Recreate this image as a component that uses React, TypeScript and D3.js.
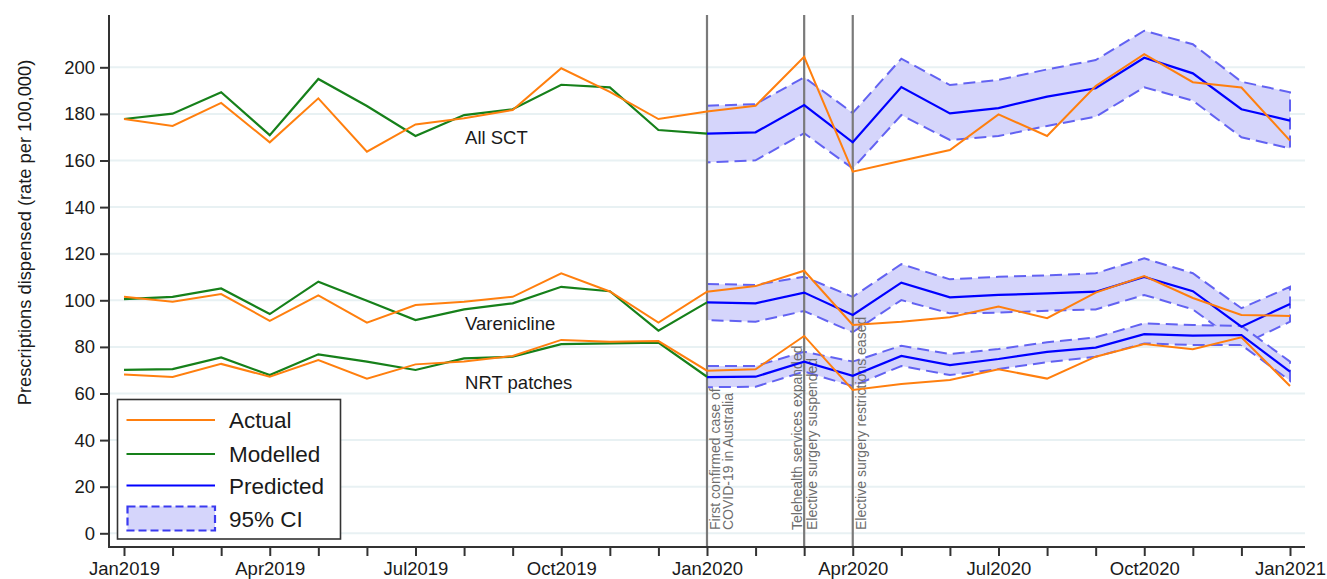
import React, { useEffect, useRef } from 'react';
import * as d3 from 'd3';

const months = [
    'Jan2019', 'Feb2019', 'Mar2019', 'Apr2019', 'May2019', 'Jun2019', 'Jul2019', 'Aug2019', 'Sep2019',
    'Oct2019', 'Nov2019', 'Dec2019', 'Jan2020', 'Feb2020', 'Mar2020', 'Apr2020', 'May2020', 'Jun2020',
    'Jul2020', 'Aug2020', 'Sep2020', 'Oct2020', 'Nov2020', 'Dec2020', 'Jan2021'
];
const yTicks = [0, 20, 40, 60, 80, 100, 120, 140, 160, 180, 200];

// month index where the prediction (counterfactual) period starts
const predStart = 12;

// All SCT
const sctActual = [177.8, 174.8, 184.7, 167.8, 186.7, 163.8, 175.5, 178.1, 181.7, 199.6, 189.5, 177.8, 181, 183.5, 204.5, 155.2, 159.9, 164.5, 179.8, 170.5, 192, 205.6, 193.6, 191.3, 168.5];
const sctModelled = [177.8, 180.1, 189.3, 170.9, 195, 183.4, 170.5, 179.5, 182, 192.5, 191.4, 173.1, 171.5];
const sctPredicted = [171.5, 172.1, 183.8, 167.8, 191.5, 180.2, 182.5, 187.4, 191, 204.1, 197.4, 182, 177.1];
const sctUpper = [183.5, 184.2, 195.7, 180.4, 203.7, 192.4, 194.6, 199.1, 203.1, 215.7, 209.9, 193.8, 189.3];
const sctLower = [159.2, 160.1, 171.7, 156.6, 179.5, 168.8, 170.5, 174.8, 178.8, 191.4, 185.7, 170, 165.2];

// Varenicline
const varActual = [101.5, 99.4, 102.7, 91.2, 102.1, 90.4, 98, 99.4, 101.5, 111.6, 103.8, 90.4, 103.7, 106.1, 112.7, 89.4, 90.8, 92.7, 97.3, 92.3, 103.3, 110.4, 101, 93.7, 93.3];
const varModelled = [100.5, 101.5, 105.1, 94.1, 108, 99.8, 91.5, 96.1, 98.7, 105.8, 103.9, 87, 99.1];
const varPredicted = [99.1, 98.7, 103.3, 93.7, 107.6, 101.3, 102.3, 103, 103.7, 110, 103.9, 88.7, 98.4];
const varUpper = [107, 106.6, 110.1, 101.5, 115.5, 109, 110.1, 110.7, 111.6, 118, 111.6, 96.6, 105.8];
const varLower = [91.5, 90.8, 95.4, 86.3, 100.1, 94.4, 94.7, 95.5, 96.1, 102.3, 96.1, 80.8, 90.8];

// NRT patches
const nrtActual = [68.2, 67.1, 72.7, 67.2, 74.4, 66.4, 72.5, 73.7, 76.1, 83, 82.2, 82.5, 69.8, 70.4, 84.7, 61.5, 64.1, 65.8, 70.4, 66.4, 75.8, 81.2, 79, 84.1, 63.2];
const nrtModelled = [70.1, 70.5, 75.5, 67.9, 76.8, 73.7, 70.1, 75.1, 75.8, 81.2, 81.5, 81.8, 67.2];
const nrtPredicted = [67, 67.2, 73.7, 67.6, 76.1, 72.2, 74.8, 77.9, 79.7, 85.5, 84.8, 85.1, 69.4];
const nrtUpper = [71.8, 71.8, 77.9, 73.7, 80.5, 76.9, 79.1, 82, 84.1, 90.1, 89.4, 89, 73.7];
const nrtLower = [62.7, 62.9, 69.4, 63.2, 71.8, 67.9, 70.5, 73.4, 75.8, 81.5, 80.8, 80.8, 65.5];

const products = [
    { name: 'All SCT', actual: sctActual, modelled: sctModelled, predicted: sctPredicted, upper: sctUpper, lower: sctLower },
    { name: 'Varenicline', actual: varActual, modelled: varModelled, predicted: varPredicted, upper: varUpper, lower: varLower },
    { name: 'NRT patches', actual: nrtActual, modelled: nrtModelled, predicted: nrtPredicted, upper: nrtUpper, lower: nrtLower }
];

const events = [
    { month: 12, lines: ['First confirmed case of', 'COVID-19 in Australia'] },
    { month: 14, lines: ['Telehealth services expanded', 'Elective surgery suspended'] },
    { month: 15, lines: ['Elective surgery restrictions eased'] }
];

const legendItems = ['Actual', 'Modelled', 'Predicted', '95% CI'];

const W = 1327;
const H = 579;

const App = () => {
    const svgRef = useRef<SVGSVGElement>(null);

    useEffect(() => {
        const svg = d3.select(svgRef.current);
        svg.selectAll('*').remove();

        const font = '"Liberation Sans", Arial, sans-serif';
        const plot = { left: 109, right: 1305, top: 15, bottom: 547 };
        const orange = '#ff7f0e';
        const green = '#16801a';
        const blue = '#0000ff';

        const x = d3.scaleLinear().domain([0, months.length - 1]).range([124, 1290]);
        const y = d3.scaleLinear().domain([0, 200]).range([533.3, 67.3]);

        // gridlines
        svg.append('g')
            .selectAll('line')
            .data(yTicks)
            .join('line')
            .attr('x1', plot.left + 1)
            .attr('x2', plot.right)
            .attr('y1', d => y(d))
            .attr('y2', d => y(d))
            .attr('stroke', '#e8f1f3')
            .attr('stroke-width', 2);

        const area = d3.area<any>()
            .x(d => x(d.m))
            .y0(d => y(d.lo))
            .y1(d => y(d.hi));

        const line = d3.line<any>()
            .x(d => x(d.m))
            .y(d => y(d.v));

        // 95% CI bands
        const bands = svg.append('g');
        products.forEach(p => {
            const pts = p.upper.map((hi, i) => ({ m: predStart + i, hi, lo: p.lower[i] }));
            bands.append('path')
                .attr('d', area(pts))
                .attr('fill', '#d5d5fb')
                .attr('stroke', '#6262f2')
                .attr('stroke-width', 2)
                .attr('stroke-dasharray', '12,6');
        });

        // event lines
        const ev = svg.append('g');
        const offsets = [[8.5, 21.5], [-7, 7.7], [8]];
        events.forEach((e, k) => {
            ev.append('line')
                .attr('x1', x(e.month))
                .attr('x2', x(e.month))
                .attr('y1', plot.top)
                .attr('y2', plot.bottom)
                .attr('stroke', '#7a7a7a')
                .attr('stroke-width', 2.2);
            e.lines.forEach((t, j) => {
                ev.append('text')
                    .attr('transform', `translate(${x(e.month) + offsets[k][j]},530) rotate(-90)`)
                    .attr('dy', '0.35em')
                    .attr('font-family', font)
                    .attr('font-size', 14)
                    .attr('fill', '#6e6e6e')
                    .text(t);
            });
        });

        // data lines
        const lines = svg.append('g').attr('fill', 'none');
        products.forEach(p => {
            lines.append('path')
                .attr('d', line(p.predicted.map((v, i) => ({ m: predStart + i, v }))))
                .attr('stroke', blue)
                .attr('stroke-width', 2.2);
            lines.append('path')
                .attr('d', line(p.modelled.map((v, i) => ({ m: i, v }))))
                .attr('stroke', green)
                .attr('stroke-width', 2.2);
            lines.append('path')
                .attr('d', line(p.actual.map((v, i) => ({ m: i, v }))))
                .attr('stroke', orange)
                .attr('stroke-width', 2);
        });

        // series labels (month index, value)
        const labelPos = [[7, 167], [7, 87.2], [7, 62]];
        svg.append('g')
            .selectAll('text')
            .data(products)
            .join('text')
            .attr('x', (d, i) => x(labelPos[i][0]) + 1)
            .attr('y', (d, i) => y(labelPos[i][1]))
            .attr('font-family', font)
            .attr('font-size', 18.5)
            .attr('fill', '#1a1a1a')
            .text(d => d.name);

        // axes
        const yAxis = svg.append('g')
            .attr('transform', `translate(${plot.left},0)`)
            .call(d3.axisLeft(y).tickValues(yTicks).tickSize(9).tickPadding(5));
        yAxis.select('.domain').remove();
        yAxis.selectAll('line').attr('stroke', '#333').attr('stroke-width', 2);
        yAxis.selectAll('text').attr('font-family', font).attr('font-size', 18.5).attr('fill', '#1a1a1a');

        const xAxis = svg.append('g')
            .attr('transform', `translate(0,${plot.bottom})`)
            .call(d3.axisBottom(x)
                .tickValues(d3.range(months.length))
                .tickFormat((d: any) => (d % 3 === 0 ? months[d] : ''))
                .tickSize(9)
                .tickPadding(6));
        xAxis.select('.domain').remove();
        xAxis.selectAll('line').attr('stroke', '#333').attr('stroke-width', 2);
        xAxis.selectAll('text').attr('font-family', font).attr('font-size', 18.5).attr('fill', '#1a1a1a');

        svg.append('line')
            .attr('x1', plot.left).attr('x2', plot.left)
            .attr('y1', plot.top).attr('y2', plot.bottom + 1)
            .attr('stroke', '#333').attr('stroke-width', 2);
        svg.append('line')
            .attr('x1', plot.left - 1).attr('x2', plot.right)
            .attr('y1', plot.bottom).attr('y2', plot.bottom)
            .attr('stroke', '#333').attr('stroke-width', 2);

        // y axis title
        svg.append('text')
            .attr('transform', `translate(25,${(60 + 405) / 2}) rotate(-90)`)
            .attr('text-anchor', 'middle')
            .attr('dy', '0.35em')
            .attr('font-family', font)
            .attr('font-size', 18.3)
            .attr('fill', '#1a1a1a')
            .text('Prescriptions dispensed (rate per 100,000)');

        // legend
        const legend = svg.append('g').attr('transform', 'translate(117.5,399.5)');
        legend.append('rect')
            .attr('width', 223)
            .attr('height', 139.5)
            .attr('fill', '#fff')
            .attr('stroke', '#333')
            .attr('stroke-width', 1.6);
        const rowY = [20.5, 54.5, 86, 119];
        const colors = [orange, green, blue];
        legendItems.forEach((label, i) => {
            if (i < 3) {
                legend.append('line')
                    .attr('x1', 9).attr('x2', 97.5)
                    .attr('y1', rowY[i]).attr('y2', rowY[i])
                    .attr('stroke', colors[i])
                    .attr('stroke-width', 2.2);
            } else {
                legend.append('rect')
                    .attr('x', 10).attr('y', rowY[i] - 12)
                    .attr('width', 87.5).attr('height', 24)
                    .attr('fill', '#d5d5fb')
                    .attr('stroke', '#3a3af0')
                    .attr('stroke-width', 2.2)
                    .attr('stroke-dasharray', '8,4');
            }
            legend.append('text')
                .attr('x', 111.5)
                .attr('y', rowY[i])
                .attr('dy', '0.36em')
                .attr('font-family', font)
                .attr('font-size', 22.5)
                .attr('fill', '#1a1a1a')
                .text(label);
        });
    }, []);

    return <svg ref={svgRef} width={W} height={H} style={{ position: 'absolute', left: 0, top: 0, background: '#fff' }}></svg>;
};

export default App;
